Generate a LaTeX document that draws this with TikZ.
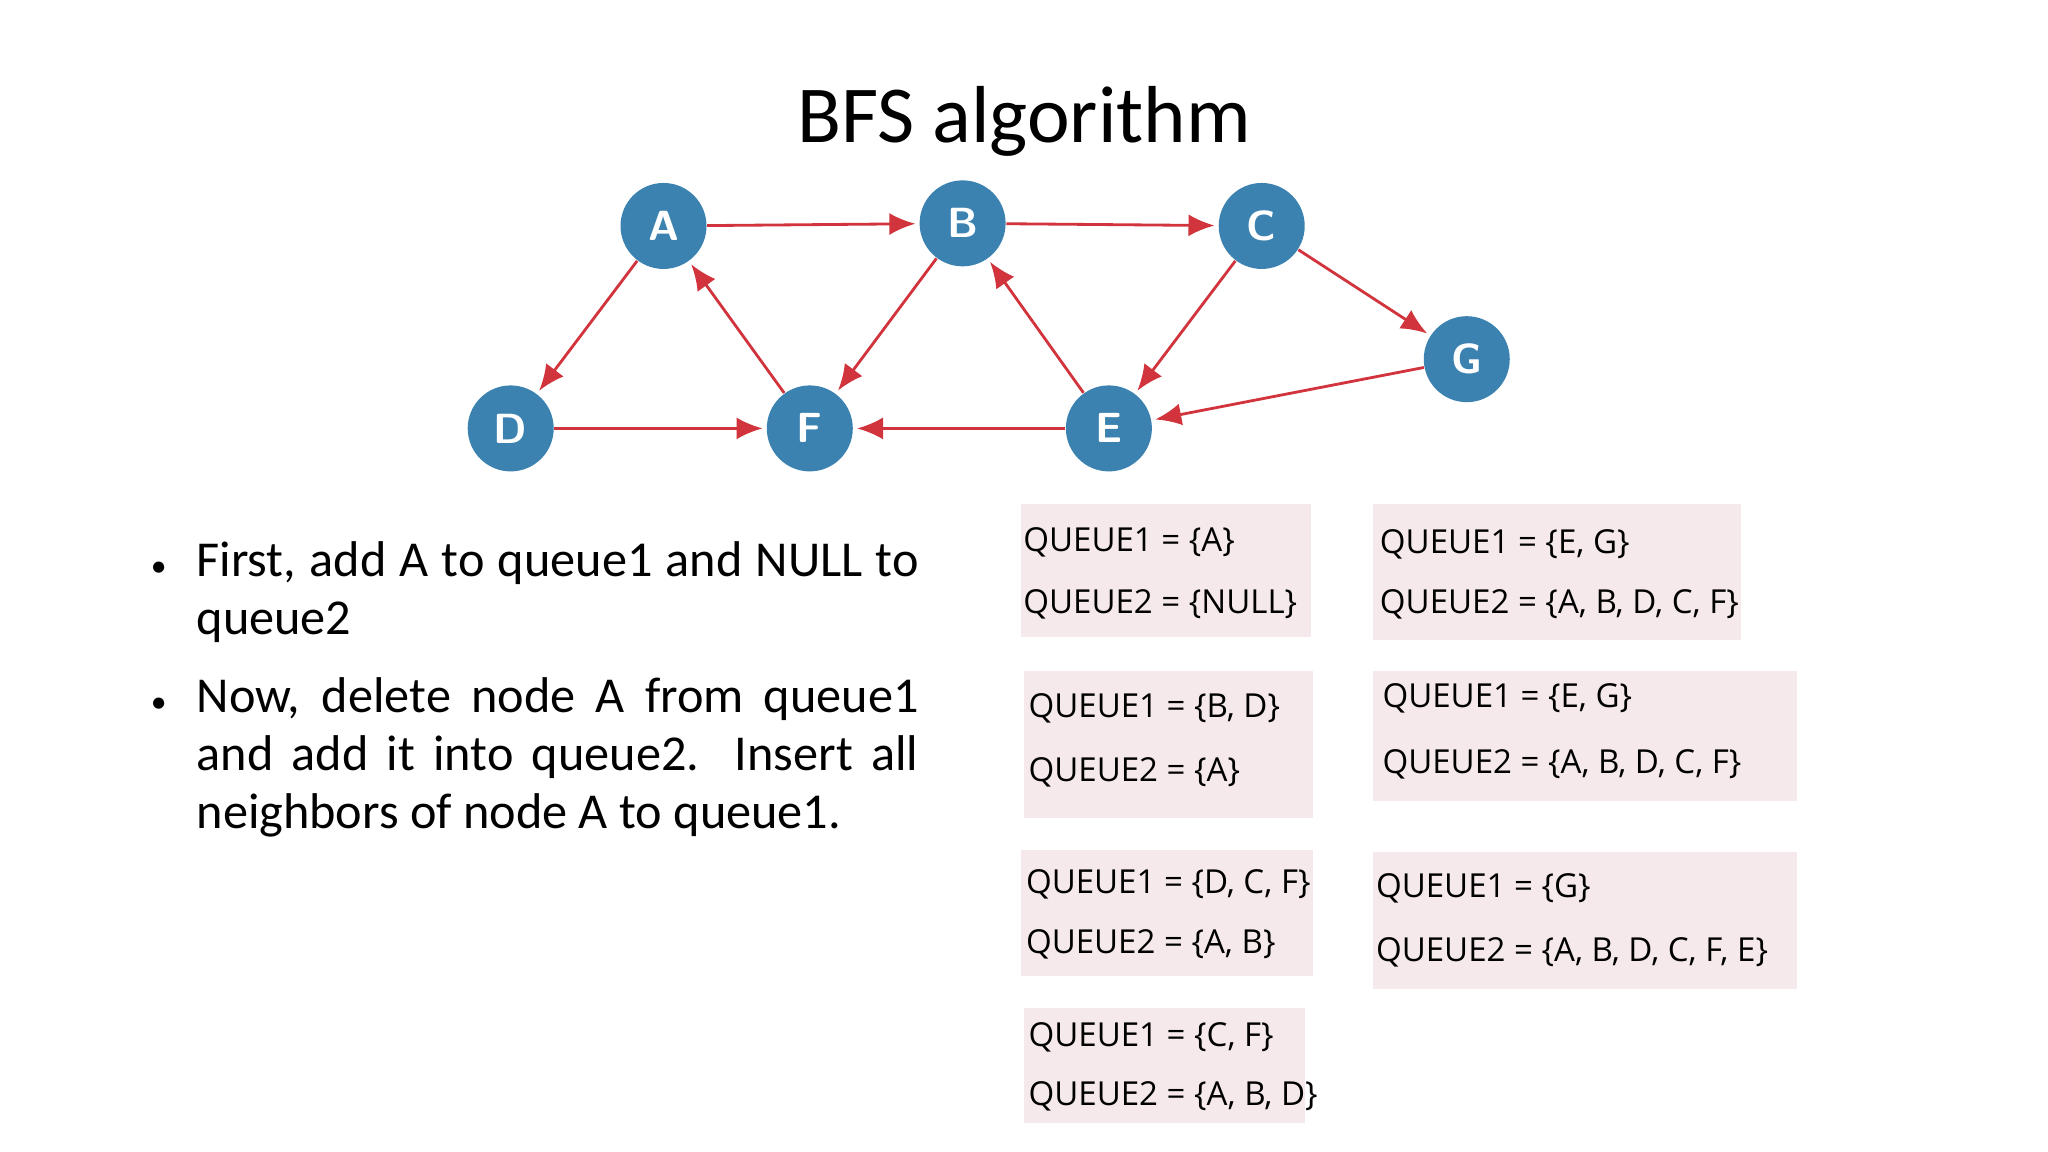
\documentclass[tikz,border=0pt]{standalone}
\usepackage{fontspec}
\setmainfont{Carlito}
\newfontfamily\qfont{Open Sans}
\usetikzlibrary{arrows.meta}
\definecolor{nodeblue}{HTML}{3B82B1}
\definecolor{edgered}{HTML}{D1343C}
\definecolor{qpink}{HTML}{F5E9EB}
\tikzset{
  vert/.style={circle, fill=nodeblue, minimum size=0.86cm, inner sep=0pt, text=white, font=\sffamily\bfseries\large},
  edge/.style={edgered, thick, -{Latex[length=2.6mm,width=2.2mm]}, shorten >=1pt},
  qbox/.style={fill=qpink, draw=none},
  qtext/.style={anchor=west, inner sep=0pt, font=\qfont\fontsize{9.4}{11}\selectfont}
}
\begin{document}
\begin{tikzpicture}[x=0.01306cm, y=-0.01306cm]
  \useasboundingbox (0,0) rectangle (1568,882);
  \node[font=\fontsize{23}{27}\selectfont] (title) at (784,93) {BFS algorithm};
  % graph
  \node[vert] (A) at (508,173) {A};
  \node[vert] (B) at (737,171) {B};
  \node[vert] (C) at (966,173) {C};
  \node[vert] (G) at (1123,275) {G};
  \node[vert] (D) at (391,328) {D};
  \node[vert] (F) at (620,328) {F};
  \node[vert] (E) at (849,328) {E};
  \draw[edge] (A) -- (B);
  \draw[edge] (B) -- (C);
  \draw[edge] (C) -- (G);
  \draw[edge] (A) -- (D);
  \draw[edge] (D) -- (F);
  \draw[edge] (F) -- (A);
  \draw[edge] (B) -- (F);
  \draw[edge] (E) -- (B);
  \draw[edge] (C) -- (E);
  \draw[edge] (E) -- (F);
  \draw[edge] (G) -- (E);
  % bullets
  \node[anchor=north west, inner sep=0pt, text width=7.22cm, align=justify,
        font=\fontsize{14.3}{16.5}\selectfont] (bul) at (150,414)
  {\makebox[0pt][r]{\small\textbullet\hspace{0.3cm}}First, add A to queue1 and NULL to queue2\par\vspace{0.2cm}
   \makebox[0pt][r]{\small\textbullet\hspace{0.3cm}}Now, delete node A from queue1 and add it into queue2. Insert all neighbors of node A to queue1.};
  % queue boxes
  \fill[qbox] (782,386) rectangle (1004,488);
  \fill[qbox] (784,514) rectangle (1005,626);
  \fill[qbox] (782,651) rectangle (1005,747);
  \fill[qbox] (784,772) rectangle (999,860);
  \fill[qbox] (1051,386) rectangle (1333,490);
  \fill[qbox] (1051,514) rectangle (1376,613);
  \fill[qbox] (1051,652) rectangle (1376,757);
  \node[qtext] (q1a) at (783,415) {QUEUE1 = \{A\}};
  \node[qtext] (q1b) at (783,463) {QUEUE2 = \{NULL\}};
  \node[qtext] (q2a) at (787,542) {QUEUE1 = \{B, D\}};
  \node[qtext] (q2b) at (787,591) {QUEUE2 = \{A\}};
  \node[qtext] (q3a) at (785,677) {QUEUE1 = \{D, C, F\}};
  \node[qtext] (q3b) at (785,723) {QUEUE2 = \{A, B\}};
  \node[qtext] (q4a) at (787,794) {QUEUE1 = \{C, F\}};
  \node[qtext] (q4b) at (787,839) {QUEUE2 = \{A, B, D\}};
  \node[qtext] (q5a) at (1056,417) {QUEUE1 = \{E, G\}};
  \node[qtext] (q5b) at (1056,463) {QUEUE2 = \{A, B, D, C, F\}};
  \node[qtext] (q6a) at (1058,535) {QUEUE1 = \{E, G\}};
  \node[qtext] (q6b) at (1058,585) {QUEUE2 = \{A, B, D, C, F\}};
  \node[qtext] (q7a) at (1053,680) {QUEUE1 = \{G\}};
  \node[qtext] (q7b) at (1053,729) {QUEUE2 = \{A, B, D, C, F, E\}};
\end{tikzpicture}
\end{document}
